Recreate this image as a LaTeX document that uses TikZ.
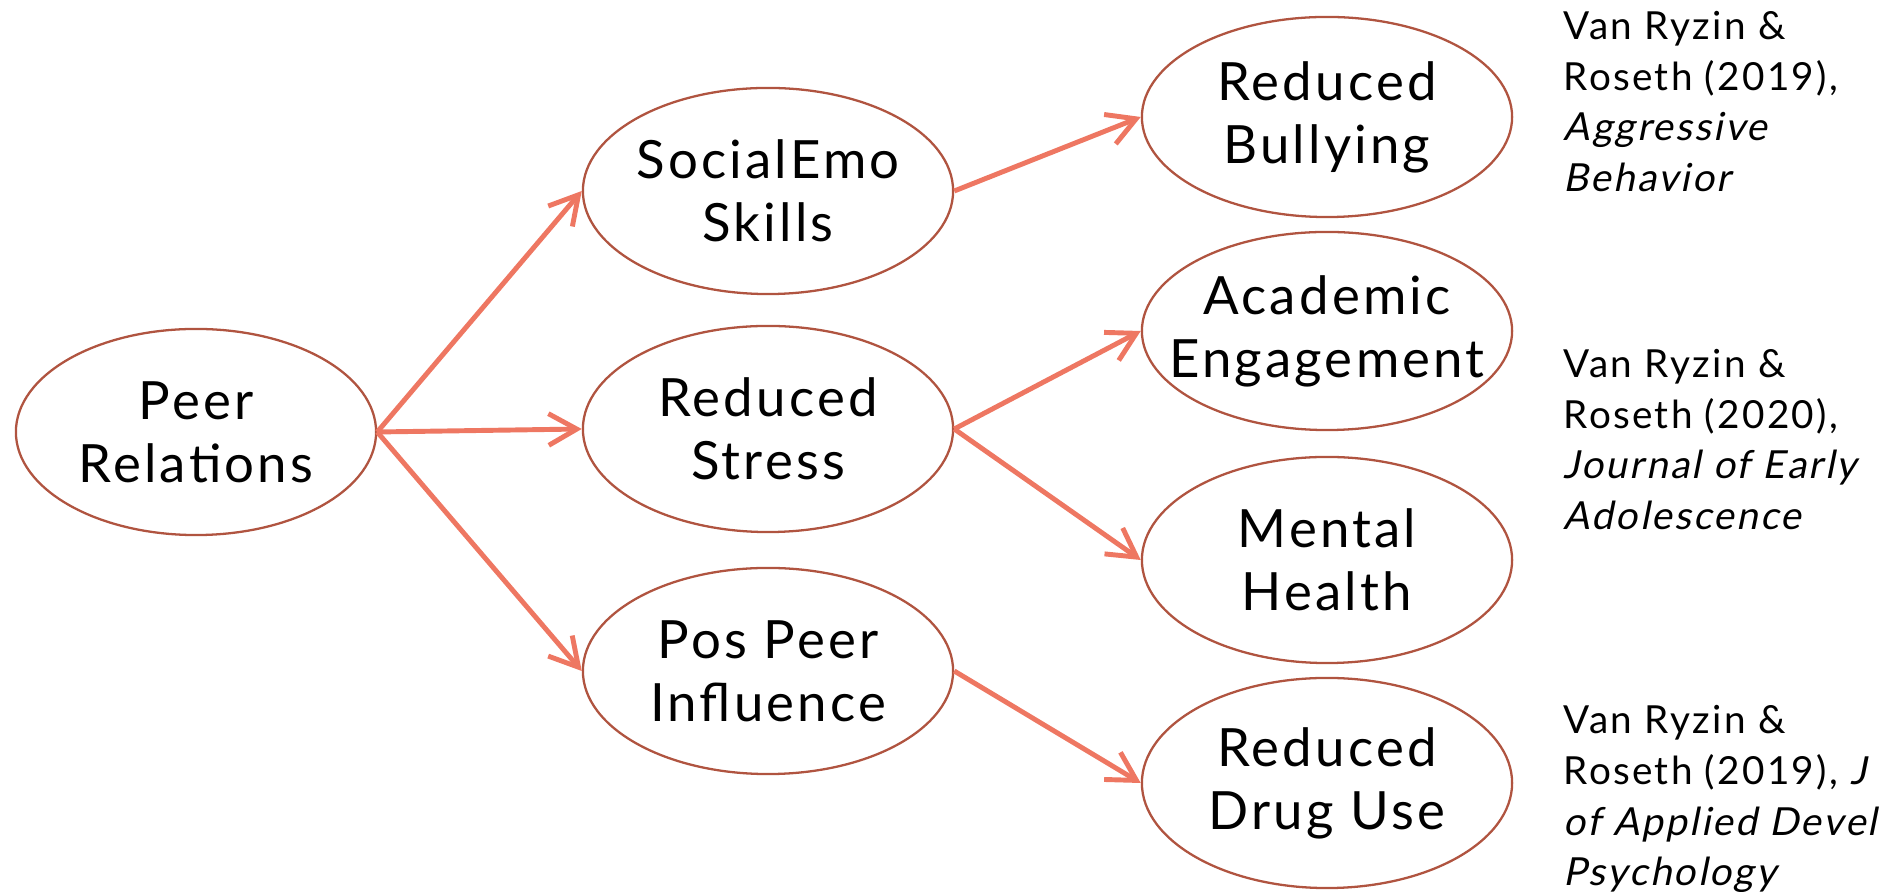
\documentclass[tikz,border=0pt]{standalone}
\usepackage{fontspec}
\setmainfont{Lato}[LetterSpace=6,ItalicFont=Lato,ItalicFeatures={FakeSlant=0.2}]
\usetikzlibrary{arrows.meta,positioning,shapes.geometric}
\definecolor{linkred}{RGB}{238,119,98}
\definecolor{ringred}{RGB}{176,84,64}

\begin{document}
\begin{tikzpicture}[x=0.01cm,y=-0.01cm,
            factor/.style={draw=ringred,line width=0.65pt,ellipse,minimum width=3.7cm,minimum height=2.06cm,inner xsep=-1cm,inner ysep=0,align=center,font=\fontsize{15}{17.9}\selectfont},
            source/.style={factor,minimum width=3.6cm},
            cite/.style={anchor=base west,align=left,inner sep=0,font=\fontsize{11}{14.5}\selectfont},
            link/.style={draw=linkred,line width=1.4pt,-{Straight Barb[length=8pt,width=9pt]}}
          ]
          \useasboundingbox (0,0) rectangle (1896,892);

          %predictor
          \node[source] (peer) at (196,432) {Peer\\Relations};

          %mediators
          \node[factor] (skills) at (768,191) {SocialEmo\\Skills};
          \node[factor] (stress) at (768,429) {Reduced\\Stress};
          \node[factor] (influence) at (768,671) {Pos Peer\\Influence};

          %outcomes
          \node[factor,minimum height=2cm] (bullying) at (1327,117) {Reduced\\Bullying};
          \node[factor,minimum height=1.98cm] (engagement) at (1327,331) {Academic\\Engagement};
          \node[factor] (health) at (1327,560) {Mental\\Health};
          \node[factor,minimum height=2.1cm] (drugs) at (1327,783) {Reduced\\Drug Use};

          %references (anchored on their last line)
          \node[cite] (ref1) at (1563,192) {Van Ryzin \&\\Roseth (2019),\\\textit{Aggressive}\\\textit{Behavior}};
          \node[cite] (ref2) at (1563,530) {Van Ryzin \&\\Roseth (2020),\\\textit{Journal of Early}\\\textit{Adolescence}};
          \node[cite] (ref3) at (1563,886) {Van Ryzin \&\\Roseth (2019), \textit{J}\\\textit{of Applied Devel}\\\textit{Psychology}};

          \path
          (peer.east) edge[link] (skills.west)
          (peer.east) edge[link] (stress.west)
          (peer.east) edge[link] (influence.west)
          (skills.east) edge[link] (bullying.west)
          (stress.east) edge[link] (engagement.west)
          (stress.east) edge[link] (health.west)
          (influence.east) edge[link] (drugs.west)
          ;

      \end{tikzpicture}
\end{document}
